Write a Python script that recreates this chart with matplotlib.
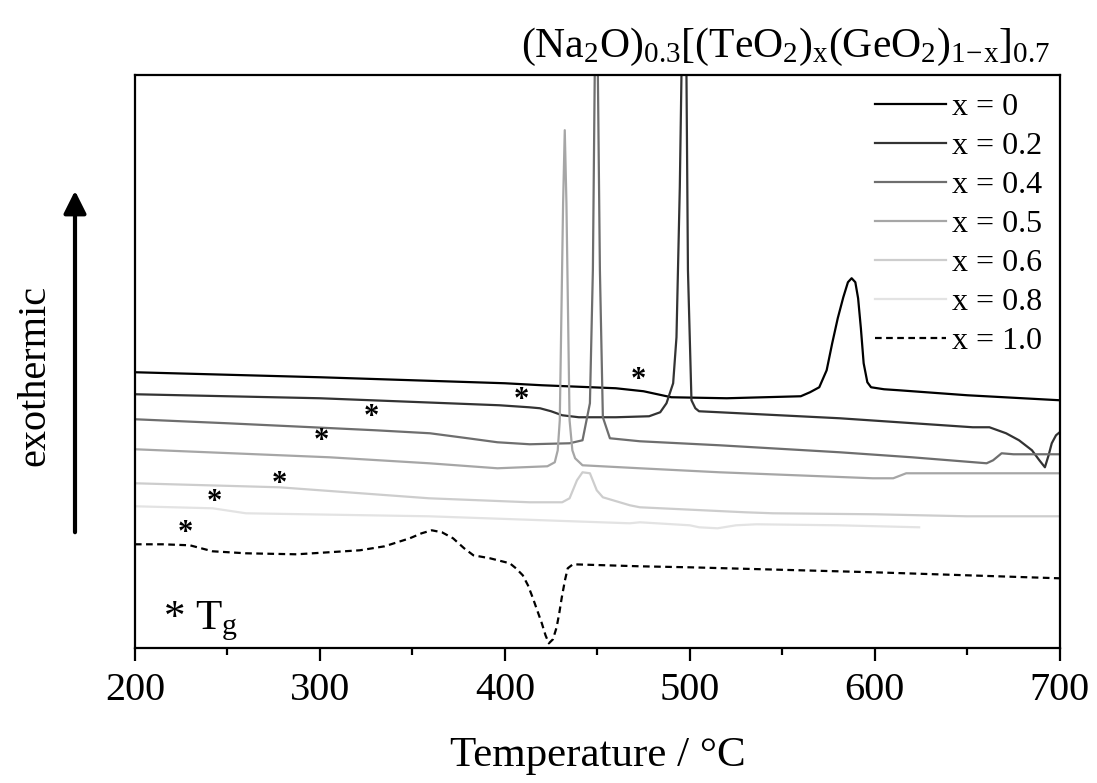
import matplotlib
matplotlib.use("Agg")
import matplotlib.pyplot as plt

plt.rcParams['font.family'] = ['Liberation Serif', 'DejaVu Serif']
plt.rcParams['mathtext.fontset'] = 'custom'
plt.rcParams['mathtext.rm'] = 'Liberation Serif'
plt.rcParams['mathtext.it'] = 'Liberation Serif'

# DSC traces, temperature (°C) vs heat flow (a.u., offset)
labels = ['x = 0', 'x = 0.2', 'x = 0.4', 'x = 0.5', 'x = 0.6', 'x = 0.8', 'x = 1.0']
colors = ['#000000', '#333333', '#6e6e6e', '#a6a6a6', '#cdcdcd', '#e3e3e3', '#000000']

t0 = [200, 300, 400, 420, 460, 475, 490, 520, 560, 565, 570, 574, 577, 580, 583, 585.5,
      587.5, 589.5, 591, 592.5, 594, 596, 598, 605, 613, 650, 700]
y0 = [2.76, 2.71, 2.65, 2.63, 2.60, 2.57, 2.51, 2.50, 2.52, 2.56, 2.61, 2.78, 3.05, 3.30, 3.51, 3.66,
      3.70, 3.66, 3.50, 3.20, 2.85, 2.66, 2.61, 2.59, 2.58, 2.53, 2.48]

t02 = [200, 300, 397, 413, 419, 425, 431, 440, 460, 478, 484, 487.4, 491, 492.8, 494.6, 495.5,
       497, 498.2, 499, 500.9, 503, 505, 516, 581, 653, 662, 671, 678, 685, 689, 692, 694,
       695.7, 698, 700]
y02 = [2.54, 2.50, 2.43, 2.41, 2.40, 2.37, 2.33, 2.31, 2.31, 2.32, 2.36, 2.45, 2.65, 3.11, 4.61, 5.73,
       6.60, 5.73, 3.78, 2.48, 2.40, 2.37, 2.36, 2.30, 2.21, 2.21, 2.15, 2.08, 1.98, 1.88, 1.81, 1.93,
       2.05, 2.13, 2.16]

t04 = [200, 250, 296, 330, 359.5, 380, 396, 413.5, 435, 442, 446, 447.6, 448.6, 449.5, 450.3,
       451.4, 453, 456.8, 473, 516, 581, 620, 660.5, 664, 668.6, 675, 700]
y04 = [2.29, 2.25, 2.21, 2.18, 2.15, 2.10, 2.06, 2.04, 2.05, 2.08, 2.45, 3.78, 5.73, 6.60, 5.73,
       3.78, 2.31, 2.10, 2.07, 2.03, 1.96, 1.91, 1.85, 1.88, 1.95, 1.94, 1.94]

t05 = [200, 305, 359, 396, 423, 427, 428.6, 429.7, 431.5, 432.4, 433.3, 435, 436.5, 438, 442,
       473, 516, 599, 610, 617, 700]
y05 = [1.99, 1.91, 1.85, 1.80, 1.82, 1.86, 1.98, 2.28, 4.45, 5.18, 4.45, 2.28, 1.98, 1.90, 1.83,
       1.80, 1.76, 1.70, 1.70, 1.75, 1.75]

t06 = [200, 278, 359, 413.5, 431, 435, 439, 442, 446, 449.7, 453, 467.6, 473, 530, 545, 600, 650, 700]
y06 = [1.65, 1.61, 1.50, 1.46, 1.46, 1.50, 1.68, 1.76, 1.75, 1.58, 1.51, 1.43, 1.41, 1.36, 1.35,
       1.34, 1.32, 1.32]

t08 = [200, 242, 260, 359, 467.6, 473, 500, 505, 515, 525, 536, 580, 624]
y08 = [1.42, 1.40, 1.35, 1.32, 1.25, 1.26, 1.23, 1.21, 1.20, 1.23, 1.24, 1.23, 1.21]

t10 = [200, 215, 229.7, 242, 260, 287.5, 321.6, 335, 348.6, 355, 360.5, 366, 372, 378, 383, 392,
       402.7, 406, 409.7, 412.5, 415, 417.5, 420, 422, 423.8, 426, 428, 429.5, 430.8, 432.5, 434,
       436.8, 473, 500, 600, 700]
y10 = [1.04, 1.04, 1.03, 0.97, 0.95, 0.94, 0.98, 1.02, 1.10, 1.15, 1.18, 1.16, 1.10, 1.00, 0.93, 0.90,
       0.85, 0.80, 0.73, 0.63, 0.51, 0.38, 0.25, 0.13, 0.05, 0.09, 0.21, 0.36, 0.51, 0.68, 0.80,
       0.84, 0.82, 0.81, 0.76, 0.70]

temps = [t0, t02, t04, t05, t06, t08, t10]
signals = [y0, y02, y04, y05, y06, y08, y10]

# glass transition marks (T, y)
tg_t = [472, 409, 328, 301, 278, 243, 227]
tg_y = [2.68, 2.48, 2.31, 2.07, 1.64, 1.46, 1.15]

fig = plt.figure(figsize=(10.97, 7.83), dpi=100)
ax = fig.add_axes([0.123, 0.172, 0.843, 0.732])

for i in range(len(labels)):
    ls = (0, (3, 2)) if i == 6 else '-'
    ax.plot(temps[i], signals[i], color=colors[i], lw=1.6, ls=ls, label=labels[i])

for t, y in zip(tg_t, tg_y):
    ax.text(t, y, '*', fontsize=22, fontweight='bold', ha='center', va='center')

ax.set_xlim(200, 700)
ax.set_ylim(0, 5.73)
ax.set_yticks([])
ax.set_xticks([200, 300, 400, 500, 600, 700])
ax.set_xticks([250, 350, 450, 550, 650], minor=True)
ax.tick_params(axis='x', which='major', direction='out', length=9, width=1.6, labelsize=29, pad=8)
ax.tick_params(axis='x', which='minor', direction='out', length=5, width=1.6)
for s in ax.spines.values():
    s.set_linewidth(1.6)
ax.set_xlabel('Temperature / °C', fontsize=31, labelpad=20)

ax.legend(loc='upper right', bbox_to_anchor=(1.0, 1.0), frameon=False, fontsize=23,
          handlelength=2.2, labelspacing=0.3, handletextpad=0.2, borderaxespad=0.15)

ax.text(0.03, 0.01, r'* T$_{\mathrm{g}}$', transform=ax.transAxes, fontsize=31, ha='left', va='bottom')

fig.text(0.957, 0.94, r'$\mathrm{(Na_2O)_{0.3}[(TeO_2)_x(GeO_2)_{1\!-\!x}]_{0.7}}$',
         fontsize=30, ha='right', va='center')
fig.text(0.032, 0.52, 'exothermic', rotation=90, fontsize=29, ha='center', va='center')
ax.annotate('', xy=(75, 595), xytext=(75, 248), xycoords='figure pixels', textcoords='figure pixels',
            arrowprops=dict(arrowstyle='-|>', lw=3, color='black', mutation_scale=34),
            annotation_clip=False)

fig.savefig('out.png', dpi=100)
